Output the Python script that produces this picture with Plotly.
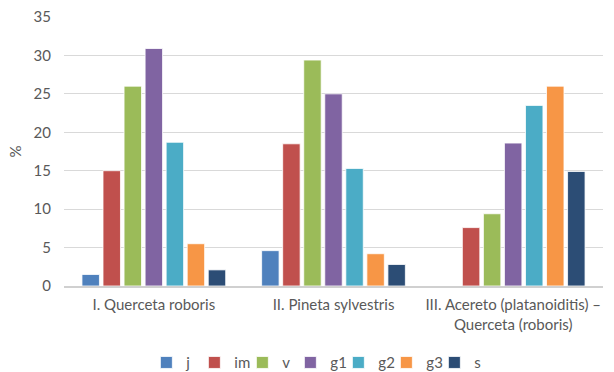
import plotly.graph_objects as go

categories = ["I. Querceta roboris", "II. Pineta sylvestris",
              "III. Acereto (platanoiditis) –<br>Querceta (roboris)"]
series_names = ["j", "im", "v", "g1", "g2", "g3", "s"]
j = [1.5, 4.6, 0]
im = [15.0, 18.5, 7.6]
v = [26.0, 29.4, 9.4]
g1 = [30.9, 25.0, 18.6]
g2 = [18.7, 15.3, 23.5]
g3 = [5.5, 4.2, 26.0]
s = [2.1, 2.8, 14.9]
values = [j, im, v, g1, g2, g3, s]
colors = ["#4F81BD", "#C0504D", "#9BBB59", "#8064A2", "#4BACC6", "#F79646", "#2C4D75"]
y_ticks = [0, 5, 10, 15, 20, 25, 30, 35]

fig = go.Figure()
for name, vals, col in zip(series_names, values, colors):
    fig.add_trace(go.Bar(name=name, x=categories, y=vals, marker_color=col,
                         marker_line_color="rgba(255,255,255,0.8)", marker_line_width=1))

txt = "#595959"
fam = "Lato, Liberation Sans, sans-serif"
fig.update_layout(
    width=614, height=372,
    margin=dict(l=64, r=11, t=17, b=86, autoexpand=False),
    paper_bgcolor="white", plot_bgcolor="white",
    barmode="group", bargap=0.18, bargroupgap=0.17,
    font=dict(family=fam, size=15, color=txt),
    showlegend=True,
    legend=dict(orientation="h", x=0.512, xanchor="center", xref="container",
                y=0.025, yanchor="middle", yref="container",
                font=dict(size=15, color=txt, family=fam), itemwidth=30,
                entrywidth=3, entrywidthmode="pixels", traceorder="normal"),
    xaxis=dict(showgrid=False, showline=True, linecolor="#D0D0D0", linewidth=2,
               ticks="", tickfont=dict(size=15, color=txt, family=fam),
               ticklabelstandoff=4),
    yaxis=dict(range=[0, 35], tickvals=y_ticks, showgrid=True, gridcolor="#D9D9D9",
               gridwidth=1, zeroline=False, ticks="", ticklen=0,
               tickfont=dict(size=15, color=txt, family=fam), ticklabelstandoff=12,
               title=dict(text="%", font=dict(size=15, color=txt, family=fam), standoff=8)),
)
fig.write_html("out.html")
